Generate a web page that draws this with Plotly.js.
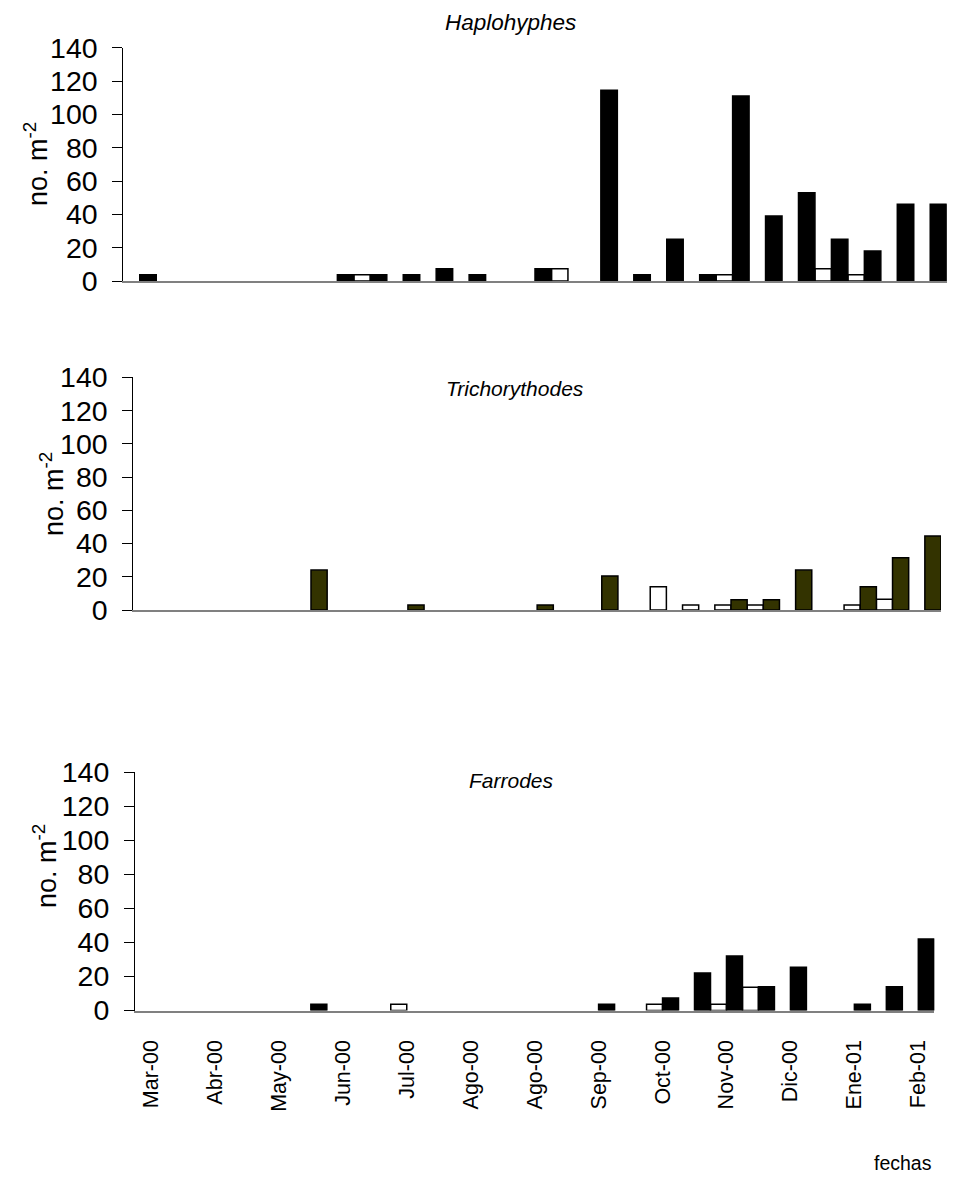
<!DOCTYPE html>
<html>
<head>
<meta charset="utf-8">
<script src="https://cdn.plot.ly/plotly-3.0.1.min.js"></script>
<style>html,body{margin:0;padding:0;background:#fff;}#chart{width:967px;height:1190px;}</style>
</head>
<body>
<div id="chart"></div>
<script>
// Sampling dates (25 samples) and the month labels shown on every other one
const muestras = ['m01','m02','m03','m04','m05','m06','m07','m08','m09','m10','m11','m12','m13',
                  'm14','m15','m16','m17','m18','m19','m20','m21','m22','m23','m24','m25'];
const fechas = ['Mar-00','Abr-00','May-00','Jun-00','Jul-00','Ago-00','Ago-00','Sep-00','Oct-00','Nov-00','Dic-00','Ene-01','Feb-01'];

// Haplohyphes
const hapBlanco = [null,null,null,null,null,null,null,3.7,null,null,null,null,null,7.4,null,null,null,null,3.7,null,null,7.4,3.7,null,null];
const hapNegro  = [3.7,null,null,null,null,null,3.7,3.7,3.7,7.4,3.7,null,7.4,null,114.5,3.7,25,3.7,111,39,53,25,18,46,46];
// Trichorythodes
const triBlanco = [null,null,null,null,null,null,null,null,null,null,null,null,null,null,null,null,14,3,3,3,null,null,3,6.4,null];
const triOscuro = [null,null,null,null,null,24,null,null,3,null,null,null,3,null,20.5,null,null,null,6.2,6.2,24,null,14,31.5,44.5];
// Farrodes
const farBlanco = [null,null,null,null,null,null,null,null,3.7,null,null,null,null,null,null,null,3.7,null,3.7,13.6,null,null,null,null,null];
const farNegro  = [null,null,null,null,null,3.7,null,null,null,null,null,null,null,null,3.7,null,7.4,22,32,14,25.4,null,3.7,14,42];

const W = 967, H = 1190;
const FONT = 'Liberation Sans, Arial, sans-serif';
const tickLabeled = muestras.filter((_, i) => i % 2 === 0);

function bar(y, color, ax) {
  return {
    type: 'bar', x: muestras, y: y,
    xaxis: 'x' + ax, yaxis: 'y' + ax,
    marker: {color: color, line: {color: '#000', width: 1.5}},
    showlegend: false, hoverinfo: 'skip'
  };
}

const data = [
  bar(hapBlanco, '#ffffff', ''), bar(hapNegro, '#000000', ''),
  bar(triBlanco, '#ffffff', '2'), bar(triOscuro, '#333300', '2'),
  bar(farBlanco, '#ffffff', '3'), bar(farNegro, '#000000', '3')
];

function px(v) { return v / W; }
function py(v) { return (H - v) / H; }

function xAxis(l, r, anchor, labels) {
  return {
    domain: [px(l), px(r)], anchor: anchor,
    type: 'category', categoryorder: 'array', categoryarray: muestras,
    range: [-0.5, muestras.length - 0.5],
    showline: true, linecolor: '#808080', linewidth: 2,
    showgrid: false, zeroline: false, ticks: '',
    tickmode: 'array', tickvals: tickLabeled, ticktext: fechas,
    showticklabels: labels, tickangle: -90, ticklabelstandoff: 19,
    tickfont: {family: FONT, size: 21.5, color: '#000'},
    fixedrange: true
  };
}
function yAxis(b, t, anchor) {
  return {
    domain: [py(b), py(t)], anchor: anchor,
    range: [0, 140], tickmode: 'linear', tick0: 0, dtick: 20,
    showline: true, linecolor: '#000', linewidth: 1,
    showgrid: false, zeroline: false,
    ticks: 'outside', ticklen: 10, tickwidth: 1, tickcolor: '#000',
    ticklabelstandoff: 9,
    tickfont: {family: FONT, size: 28.5, color: '#000'},
    fixedrange: true
  };
}

const layout = {
  width: W, height: H,
  margin: {l: 0, r: 0, t: 0, b: 0},
  paper_bgcolor: '#fff', plot_bgcolor: 'rgba(0,0,0,0)',
  barmode: 'group', bargap: 0, bargroupgap: 0,
  xaxis: xAxis(123.3, 946.7, 'y', false),
  yaxis: yAxis(281, 47.7, 'x'),
  xaxis2: xAxis(133.3, 941, 'y2', false),
  yaxis2: yAxis(610, 377.3, 'x2'),
  xaxis3: xAxis(135, 934.3, 'y3', true),
  yaxis3: yAxis(1010.5, 772, 'x3'),
  annotations: [
    {text: '<i>Haplohyphes</i>', x: px(510), y: py(22), s: 22.5},
    {text: '<i>Trichorythodes</i>', x: px(515), y: py(389), s: 21},
    {text: '<i>Farrodes</i>', x: px(511), y: py(780), s: 21},
  ].map(a => { const s = a.s; delete a.s; return Object.assign(a, {xref: 'paper', yref: 'paper', showarrow: false,
      xanchor: 'center', yanchor: 'middle', font: {family: FONT, size: s, color: '#000'}}); })
  .concat([
    {x: px(36), y: py(164)}, {x: px(52), y: py(494)}, {x: px(45), y: py(866)}
  ].map(a => Object.assign(a, {text: 'no. m<sup>-2</sup>', xref: 'paper', yref: 'paper',
      showarrow: false, textangle: -90, xanchor: 'center', yanchor: 'middle',
      font: {family: FONT, size: 27, color: '#000'}})))
  .concat([{text: 'fechas', x: px(903), y: py(1163), xref: 'paper', yref: 'paper',
      showarrow: false, xanchor: 'center', yanchor: 'middle',
      font: {family: FONT, size: 19.5, color: '#000'}}])
};

Plotly.newPlot('chart', data, layout, {staticPlot: true, displayModeBar: false});
</script>
</body>
</html>
